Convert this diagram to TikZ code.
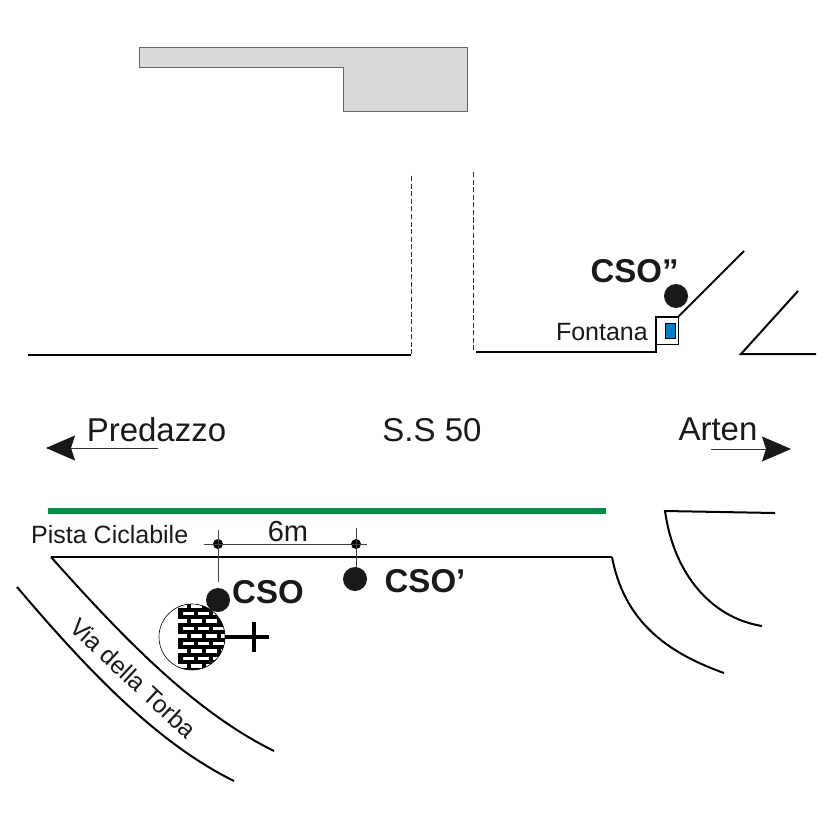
\documentclass[tikz,border=0pt]{standalone}
\usepackage{fontspec}
\setmainfont{Liberation Sans}
\usetikzlibrary{arrows.meta}
\definecolor{bikegreen}{RGB}{0,140,70}
\definecolor{waterblue}{RGB}{0,125,200}
\tikzset{road/.style={
            draw,
            line width=2pt
        },
        curb/.style={
            draw,
            line width=.7pt,
            black!80,
            dash pattern=on 5pt off 2.5pt
        },
        dimline/.style={
            draw,
            line width=.8pt,
            black!75
        },
        pit/.style={
            draw=none,
            circle,
            fill=black!90,
            inner sep=0pt,
            minimum size=24pt
        },
        tick/.style={
            draw=none,
            circle,
            fill=black,
            inner sep=0pt,
            minimum size=10pt
        },
        direction/.style={
            line width=.8pt,
            black!80,
            arrows={-Stealth[length=29pt,width=25pt,inset=4pt,black!90]}
        },
        place/.style={
            inner sep=0pt,
            anchor=base,
            text=black!90,
            font=\fontsize{33}{33}\selectfont
        },
        small/.style={
            inner sep=0pt,
            text=black!90,
            font=\fontsize{25}{25}\selectfont
        },
        site/.style={
            inner sep=0pt,
            anchor=base,
            text=black!90,
            font=\fontsize{33}{33}\selectfont\bfseries
        }
    }
\begin{document}
\begin{tikzpicture}[x=1pt,y=-1pt,line join=miter]
\useasboundingbox (0,0) rectangle (826,826);
% building
\draw[fill=black!15,draw=black!60,line width=1pt](139,48)--(467,48)--(467,112)--(343,112)--(343,68)--(139,68)--cycle;
% side road and junction
\draw[road](28,354.5)--(411,354.5);
\draw[curb](411,354)--(411,174);
\draw[curb](473,350)--(473,170);
\draw[road](476,351.5)--(656,351.5)--(656,317)--(678,317);
\draw[road](678,317)--(744,251);
\draw[road](798,291)--(741,354)--(816,354);
% fountain
\draw[line width=.7pt](656,317) rectangle (678,344);
\draw[fill=waterblue,line width=.5pt](665,323) rectangle (675,338);
\node[small,anchor=base east] (fontana) at (648,340) {Fontana};
\node[pit] (csob) at (676,296) {};
\node[site] (csoblabel) at (634.5,282) {CSO''};
% main road
\coordinate (westend) at (158,448);
\coordinate (westtip) at (46,448);
\coordinate (eastend) at (711,449);
\coordinate (easttip) at (791,449);
\draw[direction](westend)--(westtip);
\draw[direction](eastend)--(easttip);
\node[place] (predazzo) at (156.5,441.5) {Predazzo};
\node[place] (ss) at (432,441.5) {S.S 50};
\node[place] (arten) at (718,440.5) {Arten};
% cycle path
\fill[bikegreen](48,507.5) rectangle (606,514);
\node[small,anchor=base west] (pista) at (31,543.5) {Pista Ciclabile};
\draw[road](51,557)--(612,557);
\draw[road](612,557)..controls (624,620) and (665,652)..(724,673);
\draw[road](51,557)..controls (125,640) and (195,712)..(274,751);
\draw[road](17,587)..controls (85,667) and (155,742)..(234,781);
\draw[road](775,513)--(665,511)..controls (674,575) and (712,618)..(762,626);
\node[small,rotate=-43,font=\fontsize{24.6}{25}\selectfont] (torba) at (133.5,678) {Via della Torba};
% distance
\node[tick] (dima) at (218,544) {};
\node[tick] (dimb) at (356,544) {};
\draw[dimline](204,544)--(367,544);
\draw[dimline](218,530)--(218,582);
\draw[dimline](356,528)--(356,568);
\node[inner sep=0pt,anchor=base,text=black!90,font=\fontsize{29}{29}\selectfont] (six) at (288,541.5) {6m};
% wall
\begin{scope}
\clip (192,637) circle (33);
\clip (178,600) rectangle (230,675);
\fill (178,600) rectangle (230,675);
\foreach \row in {0,...,8}{
    \pgfmathsetmacro{\shift}{mod(\row,2)*7.5}
    \foreach \col in {0,...,3}{
        \fill[white] (175.5+\shift+15*\col,604.2+\row*7.5) rectangle ++(11,3.6);
    }
}
\end{scope}
\draw[line width=.6pt](192,637) circle (33);
\draw[line width=4pt](225,637)--(269,637);
\draw[line width=3.5pt](254,622)--(254,652);
\node[pit] (csoa) at (218,600) {};
\node[pit] (csoc) at (355,579) {};
\node[site] (csoalabel) at (268,603) {CSO};
\node[site] (csoclabel) at (425,592) {CSO'};
\end{tikzpicture}
\end{document}
